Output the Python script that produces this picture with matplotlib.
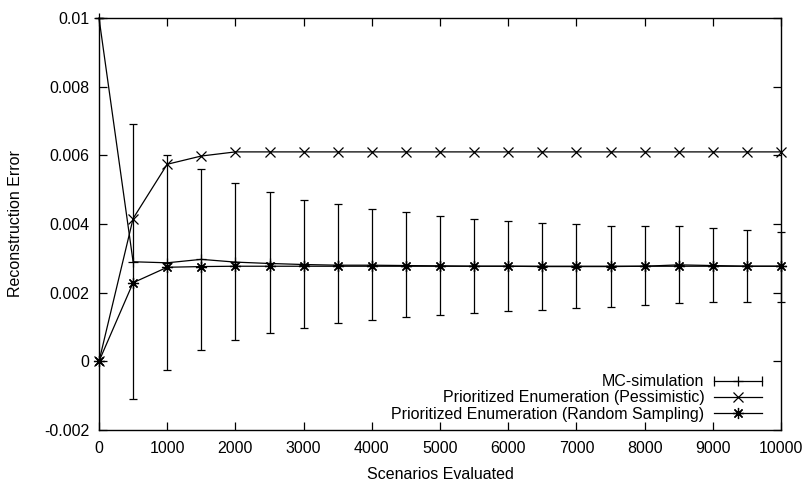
import matplotlib
matplotlib.use("Agg")
import matplotlib.pyplot as plt
from matplotlib.lines import Line2D
from matplotlib.legend_handler import HandlerBase
from matplotlib.ticker import FuncFormatter, MultipleLocator

plt.rcParams['font.family'] = ['Liberation Sans', 'DejaVu Sans']

scenarios = [0, 500, 1000, 1500, 2000, 2500, 3000, 3500, 4000, 4500, 5000,
             5500, 6000, 6500, 7000, 7500, 8000, 8500, 9000, 9500, 10000]

mc_mean = [0.0100, 0.00290, 0.00287, 0.00297, 0.00289, 0.00285, 0.00282, 0.00280, 0.00280, 0.00279, 0.00278,
           0.00277, 0.00277, 0.00276, 0.00276, 0.00276, 0.00277, 0.00281, 0.00279, 0.00277, 0.00277]
mc_low = [0.0100, -0.00110, -0.00025, 0.00032, 0.00062, 0.00083, 0.00097, 0.00111, 0.00120, 0.00129, 0.00135,
          0.00140, 0.00146, 0.00149, 0.00155, 0.00158, 0.00164, 0.00170, 0.00172, 0.00173, 0.00174]
mc_high = [0.0100, 0.00690, 0.00602, 0.00561, 0.00520, 0.00493, 0.00469, 0.00457, 0.00444, 0.00436, 0.00423,
           0.00414, 0.00410, 0.00404, 0.00399, 0.00393, 0.00393, 0.00393, 0.00388, 0.00382, 0.00377]

pessimistic = [0.0, 0.00416, 0.00574, 0.00598, 0.00610, 0.00610, 0.00610, 0.00610, 0.00610, 0.00610, 0.00610,
               0.00610, 0.00610, 0.00610, 0.00610, 0.00610, 0.00610, 0.00610, 0.00610, 0.00610, 0.00610]
random_sampling = [0.0, 0.00229, 0.00274, 0.00276, 0.00277, 0.00277, 0.00277, 0.00277, 0.00277, 0.00277, 0.00277,
                   0.00277, 0.00277, 0.00277, 0.00277, 0.00277, 0.00277, 0.00277, 0.00277, 0.00277, 0.00277]

labels = ["MC-simulation", "Prioritized Enumeration (Pessimistic)",
          "Prioritized Enumeration (Random Sampling)"]

fig = plt.figure(figsize=(8.06, 4.84), dpi=100)
ax = fig.add_axes([99/806, (484-430)/484, (781-99)/806, (430-18)/484])

lw = 0.9
yerr = [[m - l for m, l in zip(mc_mean, mc_low)], [h - m for m, h in zip(mc_mean, mc_high)]]
ax.errorbar(scenarios, mc_mean, yerr=yerr, color='black', lw=lw, elinewidth=lw,
            capsize=3, capthick=lw, marker='+', ms=7, mew=lw, clip_on=False, zorder=3)
ax.plot(scenarios, pessimistic, color='black', lw=lw, marker='x', ms=7, mew=lw, clip_on=False, zorder=3)
ax.plot(scenarios, random_sampling, color='black', lw=lw, marker=(8, 2, 0), ms=8, mew=lw, clip_on=False, zorder=3)

ax.set_xlim(0, 10000)
ax.set_ylim(-0.002, 0.01)
ax.xaxis.set_major_locator(MultipleLocator(1000))
ax.yaxis.set_major_locator(MultipleLocator(0.002))
fmt = FuncFormatter(lambda v, p: ('%g' % round(v, 6)) if abs(v) > 1e-12 else '0')
ax.xaxis.set_major_formatter(fmt)
ax.yaxis.set_major_formatter(fmt)
ax.tick_params(direction='in', length=6, width=0.9, top=True, right=True, labelsize=11.5, colors='black')
ax.tick_params(axis='x', pad=8)
ax.tick_params(axis='y', pad=7)
for s in ax.spines.values():
    s.set_linewidth(1.0)

ax.set_xlabel("Scenarios Evaluated", fontsize=11.5, labelpad=8)
ax.set_ylabel("Reconstruction Error", fontsize=11.5, labelpad=15)


class HandlerEB(HandlerBase):
    def create_artists(self, legend, orig_handle, xdescent, ydescent, width, height, fontsize, trans):
        y = height / 2 - ydescent
        x0 = -xdescent
        x1 = width - xdescent
        line = Line2D([x0, x1], [y, y], color='black', lw=lw)
        caps = Line2D([x0, x1], [y, y], ls='none', marker='|', ms=7, mew=lw, color='black')
        mid = Line2D([(x0 + x1) / 2], [y], ls='none', marker='+', ms=7, mew=lw, color='black')
        for a in (line, caps, mid):
            a.set_transform(trans)
        return [line, caps, mid]


h_mc = Line2D([], [], color='black')
h_p = Line2D([], [], color='black', lw=lw, marker='x', ms=7, mew=lw)
h_r = Line2D([], [], color='black', lw=lw, marker=(8, 2, 0), ms=8, mew=lw)
leg = ax.legend([h_mc, h_p, h_r], labels, loc='lower right', bbox_to_anchor=(0.972, 0.02),
                frameon=False, markerfirst=False, fontsize=11.5, handlelength=3.0,
                handletextpad=0.6, labelspacing=0.08, borderpad=0, borderaxespad=0,
                numpoints=1, handler_map={h_mc: HandlerEB()})

fig.savefig("out.png", dpi=100)
